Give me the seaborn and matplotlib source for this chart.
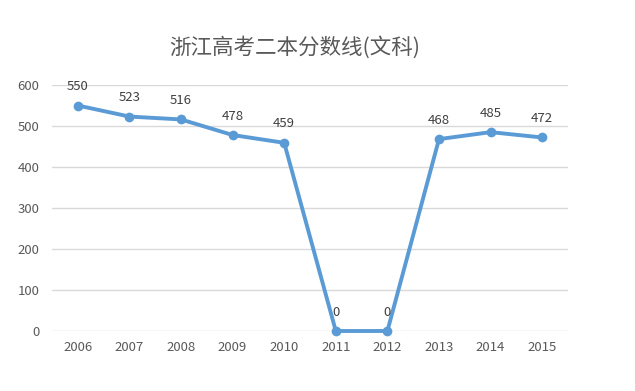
import matplotlib
matplotlib.use("Agg")
import matplotlib.pyplot as plt
import seaborn as sns
import pandas as pd

years = ["2006", "2007", "2008", "2009", "2010", "2011", "2012", "2013", "2014", "2015"]
scores = [550, 523, 516, 478, 459, 0, 0, 468, 485, 472]
yticks = [0, 100, 200, 300, 400, 500, 600]
title = "浙江高考二本分数线(文科)"

sns.set_theme(style="white")
plt.rcParams['font.family'] = ['Noto Sans CJK SC', 'DejaVu Sans']

df = pd.DataFrame({"year": years, "score": scores})

fig = plt.figure(figsize=(6.35, 3.91), dpi=100)
ax = fig.add_axes([52/635, 1-331/391, (568-52)/635, (331-85)/391])

color = "#5B9BD5"
sns.lineplot(data=df, x="year", y="score", ax=ax, color=color, linewidth=2.8,
             marker="o", markersize=7, markeredgewidth=0, sort=False, clip_on=False, zorder=3)

ax.set_xlim(-0.5, len(years) - 0.5)
ax.set_ylim(0, 600)
ax.set_yticks(yticks)
ax.grid(axis="y", color="#D9D9D9", linewidth=1)
ax.set_axisbelow(True)
for s in ax.spines.values():
    s.set_visible(False)
ax.set_xlabel("")
ax.set_ylabel("")
ax.tick_params(axis="both", colors="#595959", labelsize=9.5, length=0)
ax.tick_params(axis="x", pad=7)
ax.tick_params(axis="y", pad=9)

for i, v in enumerate(scores):
    ax.annotate(str(v), (i, v), xytext=(0, 9), textcoords="offset points",
                ha="center", va="bottom", fontsize=9.5, color="#404040")

fig.text(295/635, 1-47/391, title, ha="center", va="center", fontsize=15.5, color="#595959")

fig.savefig("out.png", dpi=100)
